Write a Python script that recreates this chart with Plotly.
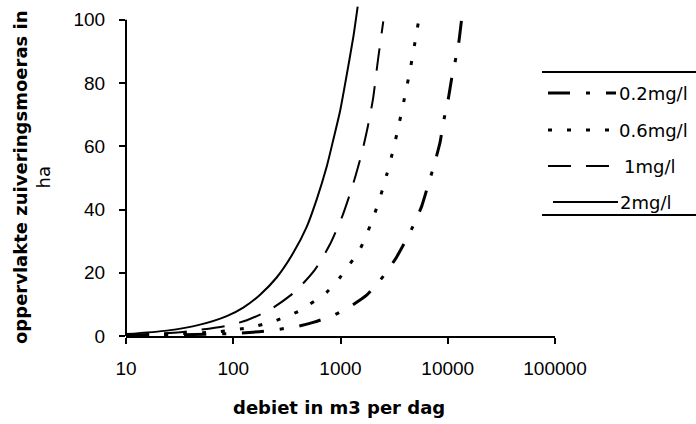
import plotly.graph_objects as go

# ---- data ----
series_names = ["0.2mg/l", "0.6mg/l", "1mg/l", "2mg/l"]

q_02 = [10, 100, 205, 391, 557, 857, 1227, 1753, 2336, 2790, 3340, 4446, 5710, 6590, 7330, 8470, 9090, 10120, 10890, 12560, 13490]
a_02 = [0.1, 0.8, 1.6, 3.0, 4.3, 6.5, 9.3, 12.9, 17.6, 21.0, 25.0, 32.7, 41.0, 48.0, 53.2, 61.2, 67.5, 75.0, 81.5, 92.0, 100.5]

q_06 = [10, 70, 143, 236, 419, 520, 743, 989, 1520, 1753, 2022, 2474, 2697, 3001, 3385, 3908, 4446, 4955, 5309]
a_06 = [0.2, 1.3, 2.7, 4.6, 8.0, 10.1, 13.8, 18.5, 27.5, 32.2, 37.4, 46.5, 51.0, 57.0, 64.5, 74.5, 84.0, 93.0, 99.0]

q_1 = [10, 32, 89, 134, 220, 377, 578, 798, 1055, 1309, 1585, 1804, 2010, 2239, 2506]
a_1 = [0.3, 1.2, 3.3, 5.0, 8.3, 14.0, 21.0, 29.0, 38.5, 48.0, 58.0, 66.5, 75.0, 87.5, 99.5]

q_2 = [10, 24, 49, 87, 124, 177, 254, 363, 484, 600, 743, 857, 989, 1142, 1316, 1446]
a_2 = [0.6, 1.7, 3.6, 6.3, 9.0, 13.0, 18.5, 26.3, 34.5, 43.2, 53.5, 62.1, 71.0, 82.5, 94.5, 104.2]

x_tickvals = [10, 100, 1000, 10000, 100000]
x_ticktext = ["10", "100", "1000", "10000", "100000"]
y_tickvals = [0, 20, 40, 60, 80, 100]
y_ticktext = ["0", "20", "40", "60", "80", "100"]

x_title = "debiet in m3 per dag"
y_title_1 = "oppervlakte zuiveringsmoeras in"
y_title_2 = "ha"

# ---- styles ----
styles = [
    dict(width=3, dash="22px,16px,4px,16px"),
    dict(width=3, dash="4px,15px"),
    dict(width=2, dash="23px,15px"),
    dict(width=2, dash="solid"),
]
qs = [q_02, q_06, q_1, q_2]
as_ = [a_02, a_06, a_1, a_2]

fig = go.Figure()
for name, q, a, st in zip(series_names, qs, as_, styles):
    fig.add_trace(go.Scatter(
        x=q, y=a, mode="lines", name=name,
        line=dict(color="black", width=st["width"], dash=st["dash"], shape="spline", smoothing=0.6),
        showlegend=False, hoverinfo="skip",
    ))

L, R, T, B = 126, 141, 4, 88
W, H = 696, 424
pw, ph = W - L - R, H - T - B

def px(x):
    return (x - L) / pw

def py(y):
    return (H - B - y) / ph

tick_font = dict(family="Liberation Sans, Arial, sans-serif", size=19, color="black")

fig.update_layout(
    width=W, height=H,
    margin=dict(l=L, r=R, t=T, b=B),
    paper_bgcolor="white", plot_bgcolor="white",
    showlegend=False,
    xaxis=dict(
        type="log", range=[1, 5],
        tickvals=x_tickvals, ticktext=x_ticktext,
        showline=True, linecolor="black", linewidth=2,
        ticks="outside", ticklen=6, tickwidth=1.5, tickcolor="black",
        showgrid=False, zeroline=False, tickfont=tick_font,
        ticklabelstandoff=8,
    ),
    yaxis=dict(
        range=[0, 105],
        tickvals=y_tickvals, ticktext=y_ticktext,
        showline=False,
        ticks="outside", ticklen=6, tickwidth=1.5, tickcolor="black",
        showgrid=False, zeroline=False, tickfont=tick_font,
        ticklabelstandoff=10,
    ),
)

# y axis line only up to 100
fig.add_shape(type="line", xref="paper", yref="y", x0=0, x1=0, y0=0, y1=100,
              line=dict(color="black", width=2))

# axis titles
fig.add_annotation(
    text=x_title, xref="paper", yref="paper", x=px(339), y=py(407),
    xanchor="center", yanchor="middle", showarrow=False,
    font=dict(family="DejaVu Sans", size=18, color="black", weight="bold"),
)
fig.add_annotation(
    text="<b>" + y_title_1 + "</b><br>" + y_title_2,
    xref="paper", yref="paper", x=px(32), y=py(177),
    xanchor="center", yanchor="middle", showarrow=False, textangle=-90,
    font=dict(family="DejaVu Sans", size=18, color="black"),
)

# legend (manual, with long samples)
fig.add_shape(type="line", xref="paper", yref="paper", x0=px(542), x1=px(700), y0=py(72), y1=py(72),
              line=dict(color="black", width=2))
fig.add_shape(type="line", xref="paper", yref="paper", x0=px(542), x1=px(700), y0=py(215), y1=py(215),
              line=dict(color="black", width=2))

leg_rows = [93, 130, 166, 202]
leg_x0 = [548, 548, 548, 553]
leg_x1 = [616, 618, 610, 618]
leg_tx = [617, 617, 622, 618]
for name, st, yy, x0, x1, tx in zip(series_names, styles, leg_rows, leg_x0, leg_x1, leg_tx):
    fig.add_shape(type="line", xref="paper", yref="paper", x0=px(x0), x1=px(x1), y0=py(yy), y1=py(yy),
                  line=dict(color="black", width=st["width"], dash=st["dash"]))
    fig.add_annotation(text=name, xref="paper", yref="paper", x=px(tx), y=py(yy),
                       xanchor="left", yanchor="middle", showarrow=False,
                       font=dict(family="DejaVu Sans", size=18, color="black"))

fig.write_html("out.html", config={"displayModeBar": False},
               post_script="document.body.style.margin='0';")
